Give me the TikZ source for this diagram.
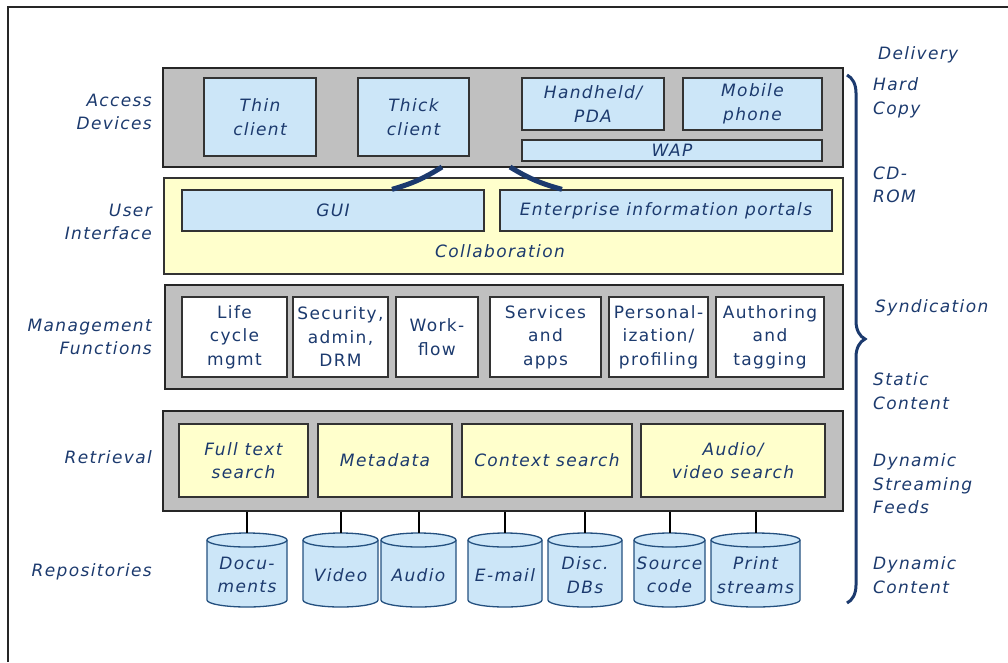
\documentclass[tikz,border=0pt]{standalone}
\usepackage{fontspec}
\setmainfont{DejaVu Sans}[LetterSpace=8]
\usetikzlibrary{decorations.pathreplacing,calc}
\definecolor{navy}{HTML}{1C3A6E}
\definecolor{lblue}{HTML}{CCE6F8}
\definecolor{lyel}{HTML}{FFFFCC}
\definecolor{lgray}{HTML}{C0C0C0}
\definecolor{cylnavy}{HTML}{24507F}
\newcommand\lf{\fontsize{17}{23.5}\selectfont}
\newcommand\bx[7]{\node[#2, inner sep=0pt, minimum width={(#5)-(#3)}, minimum height={(#6)-(#4)}] (#1) at ({((#3)+(#5))/2},{((#4)+(#6))/2}) {#7};}
\newcommand\cyl[4]{%
  \filldraw[cylline] (#2,540) -- (#2,600) arc[start angle=180,end angle=0,x radius={(#3-#2)/2},y radius=7] -- (#3,540) arc[start angle=0,end angle=-180,x radius={(#3-#2)/2},y radius=7] -- cycle;
  \draw[cylline] (#2,540) arc[start angle=180,end angle=0,x radius={(#3-#2)/2},y radius=7];
  \node[inner sep=0pt, minimum width={#3-#2}, minimum height=74] (#1) at ({(#2+#3)/2},570) {};
  \node[cyltxt] (#1t) at ($(#1.center)+(0,5)$) {#4};}
\begin{document}
\begin{tikzpicture}[x=1pt,y=-1pt,
  lbl/.style={font=\lf\itshape, text=navy, inner sep=0pt},
  gbox/.style={draw=black!85, fill=lgray, line width=1.6pt},
  bbox/.style={draw=black!80, fill=lblue, line width=1.3pt, font=\lf\itshape, text=navy, align=center},
  ybox/.style={draw=black!80, fill=lyel, line width=1.3pt, font=\lf\itshape, text=navy, align=center},
  wbox/.style={draw=black!80, fill=white, line width=1.3pt, font=\lf, text=navy, align=center},
  cylline/.style={draw=cylnavy, fill=lblue, line width=1.3pt},
  cyltxt/.style={font=\lf\itshape, text=navy, align=center, inner sep=0pt},
  conn/.style={draw=black, line width=2pt},
  link/.style={draw=navy, line width=5pt},
  frame/.style={draw=black!85, line width=2.5pt}]
\useasboundingbox (0,0) rectangle (1008,662);
% frame
\coordinate (fr1) at (8,662);
\coordinate (fr2) at (8,7);
\coordinate (fr3) at (1008,7);
\draw[frame] (fr1) -- (fr2) -- (fr3);

% Access devices
\bx{ad}{gbox}{163}{68}{843}{167}{}
\bx{thin}{bbox}{204}{78}{316}{156}{Thin\\client}
\bx{thick}{bbox}{358}{78}{469}{156}{Thick\\client}
\bx{pda}{bbox}{522}{78}{664}{130}{Handheld/\\PDA}
\bx{mob}{bbox}{683}{78}{822}{130}{Mobile\\phone}
\bx{wap}{bbox}{522}{140}{822}{161}{WAP}

% User interface
\bx{ui}{ybox}{164}{178}{843}{274}{}
\bx{gui}{bbox}{182}{190}{484}{231}{GUI}
\bx{eip}{bbox}{500}{190}{832}{231}{Enterprise information portals}
\node[lbl] (collab) at (500,251) {Collaboration};

% links
\coordinate (l1) at (442,167);
\coordinate (l2) at (510,167);
\draw[link] (gui.north -| 392,0) to[bend right=8] (l1);
\draw[link] (eip.north -| 562,0) to[bend left=8] (l2);

% Management
\bx{mf}{gbox}{165}{285}{843}{389}{}
\bx{life}{wbox}{182}{297}{287}{377}{Life\\cycle\\mgmt}
\bx{sec}{wbox}{293}{297}{388}{377}{Security,\\admin,\\DRM}
\bx{work}{wbox}{396}{297}{478}{377}{Work-\\flow}
\bx{serv}{wbox}{490}{297}{601}{377}{Services\\and\\apps}
\bx{pers}{wbox}{609}{297}{708}{377}{Personal-\\ization/\\profiling}
\bx{auth}{wbox}{716}{297}{824}{377}{Authoring\\and\\tagging}

% Retrieval
\bx{ret}{gbox}{163}{411}{843}{511}{}
\bx{fts}{ybox}{179}{424}{308}{497}{Full text\\search}
\bx{meta}{ybox}{318}{424}{452}{497}{Metadata}
\bx{ctx}{ybox}{462}{424}{632}{497}{Context search}
\bx{avs}{ybox}{641}{424}{825}{497}{Audio/\\video search}

% Repositories
\cyl{doc}{207}{287}{Docu-\\ments}
\cyl{vid}{303}{378}{Video}
\cyl{aud}{381}{456}{Audio}
\cyl{mail}{468}{542}{E-mail}
\cyl{disc}{548}{622}{Disc.\\DBs}
\cyl{src}{634}{705}{Source\\code}
\cyl{prn}{711}{800}{Print\\streams}
\foreach \c in {doc,vid,aud,mail,disc,src,prn}
  \draw[conn] (ret.south -| \c.north) -- (\c.north);

% left labels
\node[lbl, anchor=east, align=right] (lad) at (152,112) {Access\\Devices};
\node[lbl, anchor=east, align=right] (lui) at (152,222) {User\\Interface};
\node[lbl, anchor=east, align=right] (lmf) at (152,337) {Management\\Functions};
\node[lbl, anchor=east, align=right] (lret) at (152,457) {Retrieval};
\node[lbl, anchor=east, align=right] (lrep) at (152,572) {Repositories};

% right side
\node[lbl, anchor=west] (deliv) at (878,55) {Delivery};
\coordinate (bt) at (847,75);
\coordinate (bb) at (847,603);
\draw[navy, line width=3pt, decorate, decoration={brace, amplitude=18pt}] (bt) -- (bb);
\node[lbl, anchor=west, align=left] (hc) at (873,98) {Hard\\Copy};
\node[lbl, anchor=west, align=left] (cd) at (873,185) {CD-\\ROM};
\node[lbl, anchor=west, align=left] (syn) at (875,308) {Syndication};
\node[lbl, anchor=west, align=left] (stc) at (873,391) {Static\\Content};
\node[lbl, anchor=west, align=left] (dsf) at (873,484) {Dynamic\\Streaming\\Feeds};
\node[lbl, anchor=west, align=left] (dc) at (873,575) {Dynamic\\Content};
\end{tikzpicture}
\end{document}
